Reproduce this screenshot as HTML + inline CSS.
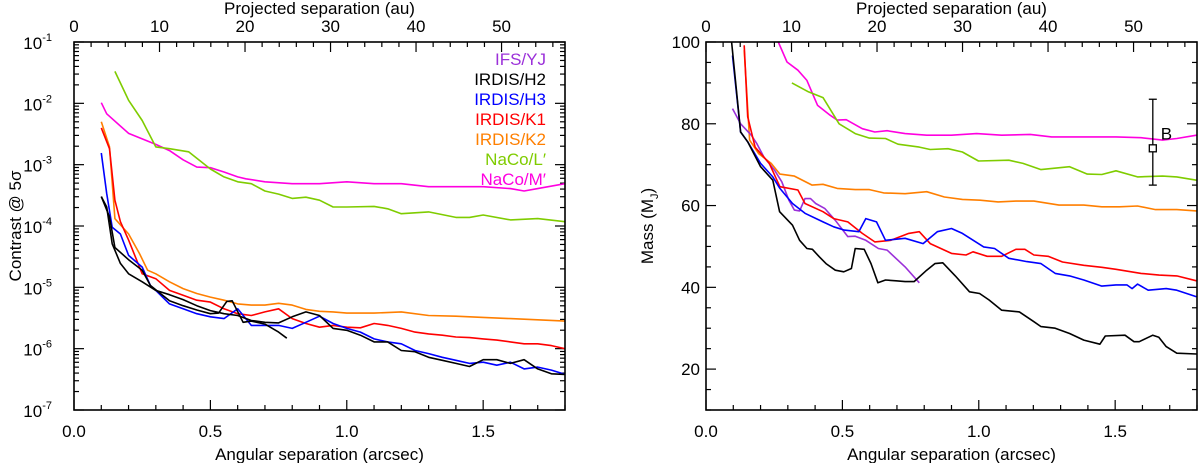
<!DOCTYPE html>
<html><head><meta charset="utf-8"><style>
html,body{margin:0;padding:0;background:#fff;}
svg{display:block;font-family:"Liberation Sans",sans-serif;}
</style></head><body>
<svg id="fig" width="1200" height="463" viewBox="0 0 1200 463"></svg>
<script>
// ---------- data: left panel (contrast, log10) ----------
const cH2x=[0.1,0.12,0.14,0.17,0.2,0.25,0.3,0.35,0.4,0.45,0.5,0.55,0.6,0.65,0.7,0.75,0.8,0.85,0.9,0.95,1.0,1.05,1.1,1.15,1.2,1.25,1.3,1.35,1.4,1.45,1.5,1.55,1.6,1.65,1.7,1.75,1.8];
const cH2y=[-3.52,-3.69,-4.29,-4.61,-4.78,-4.91,-5.05,-5.12,-5.2,-5.3,-5.38,-5.43,-5.46,-5.54,-5.57,-5.58,-5.48,-5.4,-5.46,-5.67,-5.7,-5.78,-5.89,-5.89,-6.03,-6.05,-6.14,-6.19,-6.24,-6.29,-6.18,-6.18,-6.24,-6.18,-6.33,-6.41,-6.42];
const cYJx=[0.1,0.13,0.15,0.2,0.25,0.28,0.35,0.4,0.45,0.5,0.53,0.56,0.58,0.62,0.65,0.7,0.75,0.78];
const cYJy=[-3.52,-3.85,-4.35,-4.55,-4.72,-4.97,-5.22,-5.3,-5.37,-5.43,-5.42,-5.23,-5.22,-5.57,-5.55,-5.6,-5.73,-5.83];
const cH3x=[0.1,0.12,0.14,0.17,0.2,0.25,0.28,0.3,0.35,0.4,0.45,0.5,0.55,0.6,0.65,0.7,0.75,0.8,0.85,0.9,0.95,1.0,1.05,1.1,1.15,1.2,1.25,1.3,1.35,1.4,1.45,1.5,1.55,1.6,1.65,1.7,1.75,1.8];
const cH3y=[-2.81,-3.47,-4.02,-4.13,-4.48,-4.67,-4.97,-5.05,-5.27,-5.35,-5.43,-5.48,-5.51,-5.35,-5.62,-5.62,-5.62,-5.67,-5.57,-5.47,-5.59,-5.67,-5.73,-5.84,-5.89,-5.92,-6.03,-6.08,-6.14,-6.19,-6.24,-6.22,-6.27,-6.22,-6.33,-6.3,-6.35,-6.42];
const cK1x=[0.1,0.13,0.15,0.17,0.2,0.25,0.3,0.35,0.4,0.45,0.5,0.55,0.6,0.65,0.7,0.75,0.8,0.85,0.9,0.95,1.0,1.05,1.1,1.15,1.2,1.25,1.3,1.35,1.4,1.45,1.5,1.55,1.6,1.65,1.7,1.75,1.8];
const cK1y=[-2.4,-2.74,-3.58,-3.93,-4.23,-4.78,-4.86,-5.05,-5.13,-5.21,-5.24,-5.35,-5.43,-5.46,-5.4,-5.35,-5.51,-5.59,-5.65,-5.62,-5.65,-5.66,-5.59,-5.62,-5.67,-5.73,-5.76,-5.78,-5.81,-5.82,-5.84,-5.86,-5.89,-5.92,-5.92,-5.95,-6.0];
const cK2x=[0.1,0.13,0.15,0.2,0.24,0.27,0.3,0.35,0.4,0.45,0.5,0.55,0.6,0.65,0.7,0.75,0.8,0.85,0.9,0.95,1.0,1.1,1.2,1.3,1.4,1.5,1.6,1.7,1.8];
const cK2y=[-2.3,-2.71,-3.88,-4.13,-4.45,-4.72,-4.78,-4.91,-5.02,-5.1,-5.16,-5.21,-5.27,-5.29,-5.29,-5.26,-5.29,-5.36,-5.39,-5.4,-5.42,-5.42,-5.4,-5.46,-5.47,-5.49,-5.51,-5.53,-5.55];
const cLx=[0.15,0.2,0.25,0.3,0.35,0.42,0.5,0.55,0.6,0.65,0.7,0.75,0.8,0.85,0.9,0.95,1.0,1.1,1.15,1.2,1.3,1.4,1.45,1.5,1.6,1.7,1.8];
const cLy=[-1.48,-1.95,-2.28,-2.71,-2.74,-2.79,-3.07,-3.2,-3.28,-3.31,-3.43,-3.48,-3.55,-3.53,-3.58,-3.69,-3.69,-3.68,-3.72,-3.8,-3.77,-3.86,-3.86,-3.82,-3.9,-3.88,-3.93];
const cMx=[0.1,0.12,0.2,0.25,0.3,0.35,0.4,0.45,0.5,0.55,0.6,0.63,0.7,0.8,0.9,1.0,1.1,1.2,1.3,1.4,1.5,1.6,1.65,1.7,1.8];
const cMy=[-1.99,-2.17,-2.49,-2.58,-2.67,-2.77,-2.92,-3.04,-3.05,-3.12,-3.2,-3.23,-3.28,-3.31,-3.31,-3.28,-3.31,-3.31,-3.36,-3.36,-3.36,-3.39,-3.43,-3.39,-3.31];
// ---------- data: right panel (mass, MJup) ----------
const mH2x=[0.094,0.127,0.153,0.2,0.245,0.27,0.317,0.343,0.37,0.39,0.415,0.44,0.474,0.505,0.533,0.547,0.58,0.605,0.63,0.658,0.697,0.73,0.763,0.809,0.839,0.868,0.914,0.966,1.003,1.038,1.084,1.149,1.202,1.228,1.28,1.333,1.385,1.444,1.464,1.536,1.569,1.588,1.638,1.66,1.687,1.726,1.798];
const mH2y=[100,78,75.6,69.5,66.2,58.5,55.2,51.5,49.5,49.3,47.5,45.8,44.2,43.8,44.6,49.5,49.3,45.8,41.1,41.8,41.6,41.4,41.4,44.2,45.8,46,42.8,38.9,38.5,36.9,34.4,34,31.6,30.4,30,28.7,27.1,26.1,28.1,28.3,26.7,26.7,28.3,27.8,25.5,23.9,23.7];
const mH3x=[0.097,0.127,0.153,0.2,0.245,0.271,0.317,0.363,0.429,0.468,0.507,0.56,0.586,0.625,0.658,0.73,0.796,0.848,0.9,0.94,1.018,1.058,1.11,1.176,1.228,1.28,1.333,1.385,1.451,1.503,1.543,1.562,1.582,1.621,1.687,1.726,1.798];
const mH3y=[96.7,78,75.6,70.3,67,64.2,60.5,58.1,56,54.8,54,53.6,56.8,56,51.5,52,50.7,53.6,54.4,53.2,49.9,49.5,47.1,46.3,45.8,43.4,42.8,41.8,40.3,40.6,40.6,39.7,40.8,39.3,39.7,39.3,37.7];
const mK1x=[0.14,0.153,0.18,0.232,0.271,0.337,0.363,0.429,0.468,0.52,0.573,0.619,0.678,0.743,0.782,0.822,0.9,0.953,0.979,1.031,1.084,1.136,1.169,1.202,1.254,1.307,1.385,1.451,1.503,1.595,1.661,1.726,1.798];
const mK1y=[99.2,81.7,74.3,70.3,64.6,63.8,60.5,58.5,56.8,56,53.2,51.1,51.5,53.2,53.6,50.7,48.3,47.9,48.7,47.6,47.6,49.3,49.3,47.9,47.6,46.2,45.4,44.9,44.4,43.4,43,42.8,41.6];
const mK2x=[0.14,0.16,0.193,0.239,0.271,0.324,0.389,0.429,0.481,0.547,0.599,0.651,0.73,0.809,0.874,0.94,1.005,1.071,1.136,1.202,1.294,1.385,1.451,1.516,1.582,1.648,1.726,1.798];
const mK2y=[98,76,72.7,70.3,67.7,67.2,65,65.2,64.2,63.9,63.9,63.1,62.9,63.4,62.1,61.5,61.3,60.9,61.1,61.1,60.1,60.1,59.7,59.7,59.9,59,59,58.7];
const mLx=[0.315,0.376,0.429,0.488,0.547,0.599,0.658,0.704,0.782,0.822,0.887,0.94,0.999,1.11,1.162,1.228,1.333,1.398,1.451,1.503,1.582,1.674,1.726,1.798];
const mLy=[90,87.8,86.4,80,77.6,76.5,76.4,75,74.3,73.7,73.9,73.1,70.9,71.1,70.3,68.8,69.5,67.7,67.6,68.5,67,67.2,67,66.2];
const mMx=[0.265,0.297,0.337,0.37,0.409,0.455,0.481,0.514,0.573,0.619,0.664,0.73,0.809,0.9,0.992,1.084,1.189,1.267,1.385,1.503,1.595,1.674,1.726,1.798];
const mMy=[100,95.1,93.1,90.6,84.5,82.1,80.9,81,78.8,78,78.3,77.6,77.2,77.2,77.6,77.2,77.4,76.8,76.8,76.8,76.6,76,76.4,77.2];
const mYJx=[0.097,0.127,0.166,0.186,0.212,0.252,0.278,0.304,0.324,0.343,0.363,0.383,0.402,0.435,0.474,0.52,0.547,0.586,0.632,0.664,0.73,0.782];
const mYJy=[83.7,80,77.2,75.2,71.9,68.6,65.8,61.3,58.9,58.7,61.7,61.7,60.5,59.3,56.4,52.4,52.5,51.5,49.5,49.1,45,41.1];
const compSep=[1.638], compMass=[74], compLo=[65], compHi=[86];
const legendNames=["IFS/YJ","IRDIS/H2","IRDIS/H3","IRDIS/K1","IRDIS/K2","NaCo/L\u2032","NaCo/M\u2032"];
const legendColors=["#9b30d9","#000000","#0000ff","#ff0000","#ff7f00","#7fcc00","#ff00e0"];
const AU_PER_ARCSEC=31.9;

const NS="http://www.w3.org/2000/svg";
const svg=document.getElementById('fig');
function el(tag,attrs,parent){const e=document.createElementNS(NS,tag);for(const k in attrs)e.setAttribute(k,attrs[k]);(parent||svg).appendChild(e);return e;}

function panel(L,R,T,B,yfun,name){
  const g=el('g',{});
  
  
  const xs=v=>L+(v/1.8)*(R-L);
  return {g,xs,ys:yfun,L,R,T,B};
}
const P1=panel(74,565,42,410,v=>42+(-1-v)*(368/6),'contrast-panel');
const P2=panel(706,1197,42,410,v=>42+(100-v)*(368/90),'mass-panel');

function line(P,xa,ya,color,name){
  const d=xa.map((x,i)=>(i?'L':'M')+P.xs(x).toFixed(1)+','+P.ys(ya[i]).toFixed(1)).join('');
  const p=el('path',{d,fill:'none',stroke:color,'stroke-width':1.6,'stroke-linejoin':'round','clip-path':'url(#'+(P===P1?'c1':'c2')+')'},P.g);
  
  
}
const defs=el('defs',{});
[[P1,'c1'],[P2,'c2']].forEach(([P,id])=>{const c=el('clipPath',{id},defs);el('rect',{x:P.L,y:P.T,width:P.R-P.L,height:P.B-P.T},c);});

function text(P,x,y,s,anchor,size,color,name){
  const t=el('text',{x,y,'text-anchor':anchor,'font-size':size,fill:color||'#000'},P.g);
  t.textContent=s;
  
  
  return t;
}
function tick(P,x1,y1,x2,y2){el('line',{x1,y1,x2,y2,stroke:'#000','stroke-width':1.2},P.g);}

function xaxes(P){
  for(let v=0;v<=1.8001;v+=0.1){const x=P.xs(v);const maj=Math.abs(v/0.5-Math.round(v/0.5))<1e-6;const l=maj?10:5;tick(P,x,P.B,x,P.B-l);
    if(maj) text(P,x,P.B+27,v.toFixed(1),'middle',17,'#000','x-tick-label');}
  for(let a=0;a<=57;a+=2){const x=P.xs(a/AU_PER_ARCSEC);const maj=a%10===0;tick(P,x,P.T,x,P.T+(maj?10:5));
    if(maj) text(P,x,P.T-10,String(a),'middle',17,'#000','top-tick-label');}
  text(P,(P.L+P.R)/2,P.B+50,'Angular separation (arcsec)','middle',17,'#000','x-axis-title');
  text(P,(P.L+P.R)/2,P.T-28,'Projected separation (au)','middle',17,'#000','top-axis-title');
  const r=el('rect',{x:P.L,y:P.T,width:P.R-P.L,height:P.B-P.T,fill:'none',stroke:'#000','stroke-width':1.6},P.g);
  
  
}
// left y axis (log)
for(let d=-7;d<=-1;d++){
  const y=P1.ys(d);
  tick(P1,P1.L,y,P1.L+10,y);tick(P1,P1.R,y,P1.R-10,y);
  const t=text(P1,P1.L-6,y+7,'10','end',17,'#000','y-tick-label');
  const s=el('tspan',{dy:-8,'font-size':11},t);s.textContent=String(d);
  t.setAttribute('x',P1.L-22);
  if(d<-1)for(let m=2;m<=9;m++){const yy=P1.ys(d+Math.log10(m));tick(P1,P1.L,yy,P1.L+5,yy);tick(P1,P1.R,yy,P1.R-5,yy);}
}
{const t=text(P1,0,0,'Contrast @ 5\u03c3','middle',17,'#000','y-axis-title');t.setAttribute('transform','translate(21,226) rotate(-90)');}
// right y axis
for(let v=10;v<=100;v+=5){const y=P2.ys(v);const maj=v%20===0;const l=maj?10:5;tick(P2,P2.L,y,P2.L+l,y);tick(P2,P2.R,y,P2.R-l,y);
  if(maj) text(P2,P2.L-6,y+6,String(v),'end',17,'#000','y-tick-label');}
{const t=text(P2,0,0,'Mass (M','middle',17,'#000','y-axis-title');const s=el('tspan',{dy:5,'font-size':11},t);s.textContent='J';const s2=el('tspan',{dy:-5},t);s2.textContent=')';t.setAttribute('transform','translate(653,226) rotate(-90)');}

// series left
line(P1,cMx,cMy,legendColors[6],'naco-mp-contrast');
line(P1,cLx,cLy,legendColors[5],'naco-lp-contrast');
line(P1,cK2x,cK2y,legendColors[4],'irdis-k2-contrast');
line(P1,cK1x,cK1y,legendColors[3],'irdis-k1-contrast');
line(P1,cH3x,cH3y,legendColors[2],'irdis-h3-contrast');
line(P1,cYJx,cYJy,'#000000','ifs-yj-contrast');
line(P1,cH2x,cH2y,legendColors[1],'irdis-h2-contrast');
// series right
line(P2,mMx,mMy,legendColors[6],'naco-mp-mass');
line(P2,mLx,mLy,legendColors[5],'naco-lp-mass');
line(P2,mK2x,mK2y,legendColors[4],'irdis-k2-mass');
line(P2,mYJx,mYJy,legendColors[0],'ifs-yj-mass');
line(P2,mK1x,mK1y,legendColors[3],'irdis-k1-mass');
line(P2,mH3x,mH3y,legendColors[2],'irdis-h3-mass');
line(P2,mH2x,mH2y,legendColors[1],'irdis-h2-mass');

// legend
legendNames.forEach((n,i)=>{text(P1,546,65+i*20,n,'end',17,legendColors[i],'legend-entry');});

// companion B
compSep.forEach((s,i)=>{
  const x=P2.xs(s);
  el('line',{x1:x,y1:P2.ys(compLo[i]),x2:x,y2:P2.ys(compHi[i]),stroke:'#000','stroke-width':1.3},P2.g);
  el('line',{x1:x-4,y1:P2.ys(compLo[i]),x2:x+4,y2:P2.ys(compLo[i]),stroke:'#000','stroke-width':1.3},P2.g);
  el('line',{x1:x-4,y1:P2.ys(compHi[i]),x2:x+4,y2:P2.ys(compHi[i]),stroke:'#000','stroke-width':1.3},P2.g);
  const r=el('rect',{x:x-3.5,y:P2.ys(compMass[i])-3.5,width:7,height:7,fill:'#fff',stroke:'#000','stroke-width':1.3},P2.g);
  
  
  text(P2,x+8,P2.ys(compMass[i])-9,'B','start',17,'#000','companion-b-label');
});

xaxes(P1);xaxes(P2);
</script>
</body></html>
